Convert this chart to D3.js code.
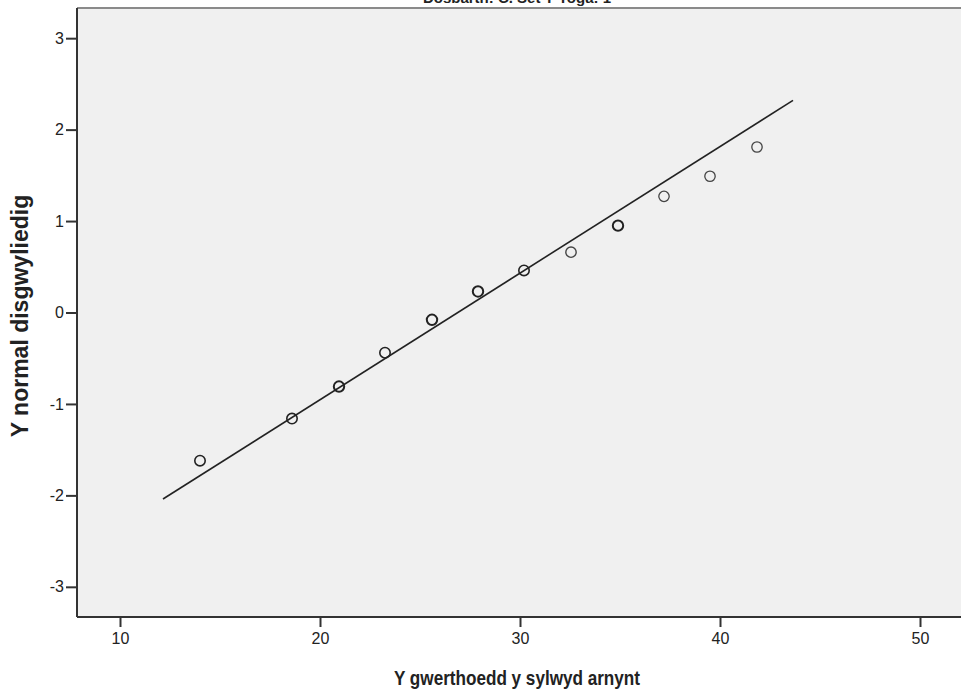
<!DOCTYPE html>
<html>
<head>
<meta charset="utf-8">
<script src="https://cdn.jsdelivr.net/npm/d3@7"></script>
<style>
  html, body { margin: 0; padding: 0; background: #fff; }
  svg { display: block; font-family: "Liberation Sans", Arial, sans-serif; }
</style>
</head>
<body>
<svg id="chart" width="961" height="693"></svg>
<script>
// Observed values and their expected normal scores
const observed = [14.0, 18.6, 20.95, 23.25, 25.6, 27.9, 30.2, 32.55, 34.9, 37.2, 39.5, 41.85];
const expected = [-1.62, -1.16, -0.81, -0.44, -0.08, 0.23, 0.46, 0.66, 0.95, 1.27, 1.49, 1.81];
const emphasis = [1.6, 1.6, 2.0, 1.6, 2.0, 2.0, 1.6, 1.4, 2.0, 1.3, 1.3, 1.3];
// Reference line endpoints
const lineX = [12.15, 43.65];
const lineY = [-2.04, 2.32];
const xTicks = [10, 20, 30, 40, 50];
const yTicks = [-3, -2, -1, 0, 1, 2, 3];

const title = "Dosbarth: C. Set Y Yoga: 1";
const xTitle = "Y gwerthoedd y sylwyd arnynt";
const yTitle = "Y normal disgwyliedig";

const svg = d3.select("#chart");
const panel = { left: 77, right: 961, top: 8, bottom: 617 };

const x = d3.scaleLinear().domain([7.85, 52.05]).range([panel.left, panel.right]);
const y = d3.scaleLinear().domain([-3.33, 3.33]).range([panel.bottom, panel.top]);

// Plot panel
svg.append("rect")
  .attr("x", panel.left).attr("y", panel.top)
  .attr("width", panel.right - panel.left).attr("height", panel.bottom - panel.top)
  .attr("fill", "#f0f0f0");

// Top frame edge
svg.append("line")
  .attr("x1", panel.left).attr("x2", panel.right)
  .attr("y1", panel.top).attr("y2", panel.top)
  .attr("stroke", "#8a8a8a").attr("stroke-width", 2);

// Title (runs off the top of the page)
svg.append("text")
  .attr("x", 517).attr("y", 3)
  .attr("text-anchor", "middle")
  .attr("font-size", 15).attr("font-weight", "bold")
  .attr("fill", "#222")
  .text(title);

// Axes
const plain = d => String(d);
const xAxis = d3.axisBottom(x).tickValues(xTicks).tickFormat(plain).tickSize(10).tickPadding(6);
const yAxis = d3.axisLeft(y).tickValues(yTicks).tickFormat(plain).tickSize(11).tickPadding(2);

const gx = svg.append("g").attr("transform", `translate(0,${panel.bottom})`).call(xAxis);
const gy = svg.append("g").attr("transform", `translate(${panel.left},0)`).call(yAxis);

[gx, gy].forEach(g => {
  g.select(".domain").remove();
  g.selectAll(".tick line").attr("stroke", "#333").attr("stroke-width", 2);
  g.selectAll(".tick text")
    .attr("font-size", 16)
    .attr("fill", "#222")
    .attr("font-family", "'Liberation Sans', Arial, sans-serif");
});

svg.append("line")
  .attr("x1", panel.left).attr("x2", panel.right)
  .attr("y1", panel.bottom).attr("y2", panel.bottom)
  .attr("stroke", "#333").attr("stroke-width", 2);
svg.append("line")
  .attr("x1", panel.left).attr("x2", panel.left)
  .attr("y1", panel.top).attr("y2", panel.bottom)
  .attr("stroke", "#333").attr("stroke-width", 2);

// Reference line
svg.append("line")
  .attr("x1", x(lineX[0])).attr("y1", y(lineY[0]))
  .attr("x2", x(lineX[1])).attr("y2", y(lineY[1]))
  .attr("stroke", "#222").attr("stroke-width", 1.6);

// Points
svg.append("g").selectAll("circle")
  .data(observed.map((v, i) => ({ v, e: expected[i], w: emphasis[i] })))
  .join("circle")
  .attr("cx", d => x(d.v))
  .attr("cy", d => y(d.e))
  .attr("r", 5.2)
  .attr("fill", "none")
  .attr("stroke", d => d.w >= 1.6 ? "#222" : "#444")
  .attr("stroke-width", d => d.w);

// Axis titles
svg.append("text")
  .attr("x", 394).attr("y", 685)
  .attr("font-size", 21).attr("font-weight", "bold")
  .attr("textLength", 246).attr("lengthAdjust", "spacingAndGlyphs")
  .attr("fill", "#222")
  .text(xTitle);

svg.append("text")
  .attr("transform", `translate(28,${316}) rotate(-90)`)
  .attr("text-anchor", "middle")
  .attr("font-size", 23).attr("font-weight", "bold")
  .attr("fill", "#222")
  .text(yTitle);
</script>
</body>
</html>
